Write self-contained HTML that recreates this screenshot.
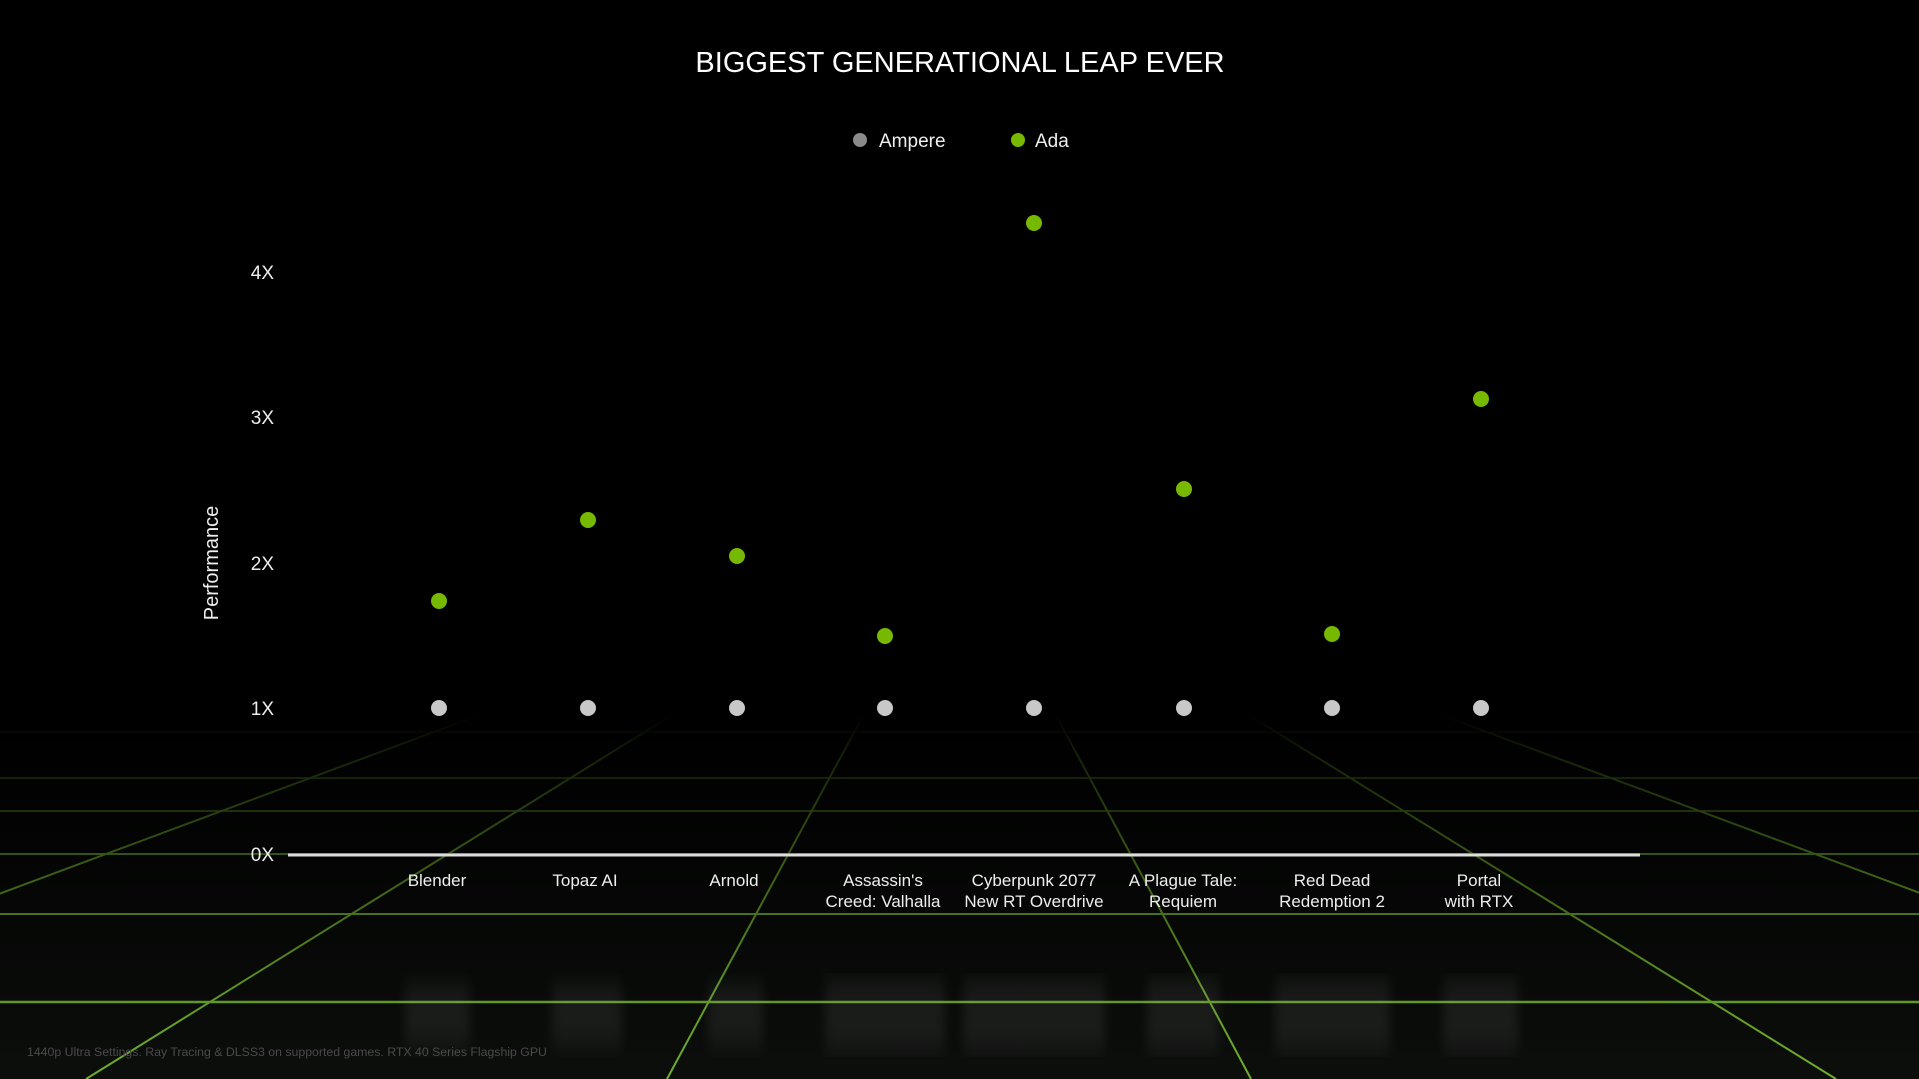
<!DOCTYPE html>
<html><head><meta charset="utf-8"><style>
html,body{margin:0;padding:0;background:#000;}
svg{display:block;font-family:"Liberation Sans",sans-serif;}
</style></head><body>
<svg width="1919" height="1079" viewBox="0 0 1919 1079" xmlns="http://www.w3.org/2000/svg">
<defs>
<linearGradient id="bg" x1="0" y1="0" x2="0" y2="1">
<stop offset="0" stop-color="#000"/><stop offset="0.6" stop-color="#000"/><stop offset="0.75" stop-color="#060806"/><stop offset="1" stop-color="#0c0e0c"/>
</linearGradient>
<linearGradient id="fade" gradientUnits="userSpaceOnUse" x1="0" y1="715" x2="0" y2="1079">
<stop offset="0" stop-color="#000" stop-opacity="1"/><stop offset="0.12" stop-color="#000" stop-opacity="0.8"/><stop offset="0.4" stop-color="#000" stop-opacity="0.5"/><stop offset="0.8" stop-color="#000" stop-opacity="0.12"/><stop offset="1" stop-color="#000" stop-opacity="0"/>
</linearGradient>
<filter id="blur"><feGaussianBlur stdDeviation="5 12"/></filter>
</defs>
<rect width="1919" height="1079" fill="url(#bg)"/>
<g stroke="#6fb02a" stroke-width="2" fill="none">
<line x1="0" y1="732" x2="1919" y2="732" stroke-width="1"/>
<line x1="0" y1="778" x2="1919" y2="778" stroke-width="1.5"/>
<line x1="0" y1="811" x2="1919" y2="811" stroke-width="1.5"/>
<line x1="0" y1="854" x2="1919" y2="854"/>
<line x1="0" y1="914" x2="1919" y2="914"/>
<line x1="0" y1="1002" x2="1919" y2="1002" stroke-width="2.5"/>
<line x1="960" y1="536" x2="-498" y2="1079"/>
<line x1="960" y1="536" x2="86" y2="1079"/>
<line x1="960" y1="536" x2="667" y2="1079"/>
<line x1="960" y1="536" x2="1251" y2="1079"/>
<line x1="960" y1="536" x2="1836" y2="1079"/>
<line x1="960" y1="536" x2="2420" y2="1079"/>
</g>
<rect x="0" y="500" width="1919" height="215" fill="#000"/>
<rect x="0" y="715" width="1919" height="364" fill="url(#fade)"/>
<g fill="#bbb" opacity="0.09" filter="url(#blur)">
<rect x="405" y="985" width="65" height="60"/><rect x="552" y="985" width="70" height="60"/><rect x="708" y="985" width="55" height="60"/>
<rect x="825" y="980" width="120" height="70"/><rect x="963" y="980" width="142" height="70"/><rect x="1147" y="980" width="72" height="70"/>
<rect x="1275" y="980" width="115" height="70"/><rect x="1443" y="980" width="75" height="70"/>
</g>
<text x="960" y="72" fill="#fff" font-size="29" text-anchor="middle">BIGGEST GENERATIONAL LEAP EVER</text>
<circle cx="860" cy="140" r="7" fill="#8a8a8a"/>
<text x="879" y="147" fill="#eee" font-size="19">Ampere</text>
<circle cx="1018" cy="140" r="7" fill="#76b900"/>
<text x="1035" y="147" fill="#eee" font-size="19">Ada</text>
<g fill="#eee" font-size="19" text-anchor="end">
<text x="274" y="279">4X</text><text x="274" y="424">3X</text><text x="274" y="570">2X</text><text x="274" y="715">1X</text><text x="274" y="861">0X</text>
</g>
<text transform="translate(218,563) rotate(-90)" fill="#eee" font-size="20" text-anchor="middle">Performance</text>
<line x1="288" y1="855" x2="1640" y2="855" stroke="#ddd" stroke-width="3"/>
<g fill="#c8c8c8">
<circle cx="439" cy="708" r="8"/><circle cx="588" cy="708" r="8"/><circle cx="737" cy="708" r="8"/><circle cx="885" cy="708" r="8"/>
<circle cx="1034" cy="708" r="8"/><circle cx="1184" cy="708" r="8"/><circle cx="1332" cy="708" r="8"/><circle cx="1481" cy="708" r="8"/>
</g>
<g fill="#76b900">
<circle cx="439" cy="601" r="8"/><circle cx="588" cy="520" r="8"/><circle cx="737" cy="556" r="8"/><circle cx="885" cy="636" r="8"/>
<circle cx="1034" cy="223" r="8"/><circle cx="1184" cy="489" r="8"/><circle cx="1332" cy="634" r="8"/><circle cx="1481" cy="399" r="8"/>
</g>
<g fill="#eee" font-size="17" text-anchor="middle">
<text x="437" y="886">Blender</text>
<text x="585" y="886">Topaz AI</text>
<text x="734" y="886">Arnold</text>
<text x="883" y="886">Assassin's</text><text x="883" y="907">Creed: Valhalla</text>
<text x="1034" y="886">Cyberpunk 2077</text><text x="1034" y="907">New RT Overdrive</text>
<text x="1183" y="886">A Plague Tale:</text><text x="1183" y="907">Requiem</text>
<text x="1332" y="886">Red Dead</text><text x="1332" y="907">Redemption 2</text>
<text x="1479" y="886">Portal</text><text x="1479" y="907">with RTX</text>
</g>
<text x="27" y="1056" fill="#4a4a4a" font-size="12.3">1440p Ultra Settings. Ray Tracing &amp; DLSS3 on supported games.  RTX 40 Series Flagship GPU</text>
</svg>
</body></html>
